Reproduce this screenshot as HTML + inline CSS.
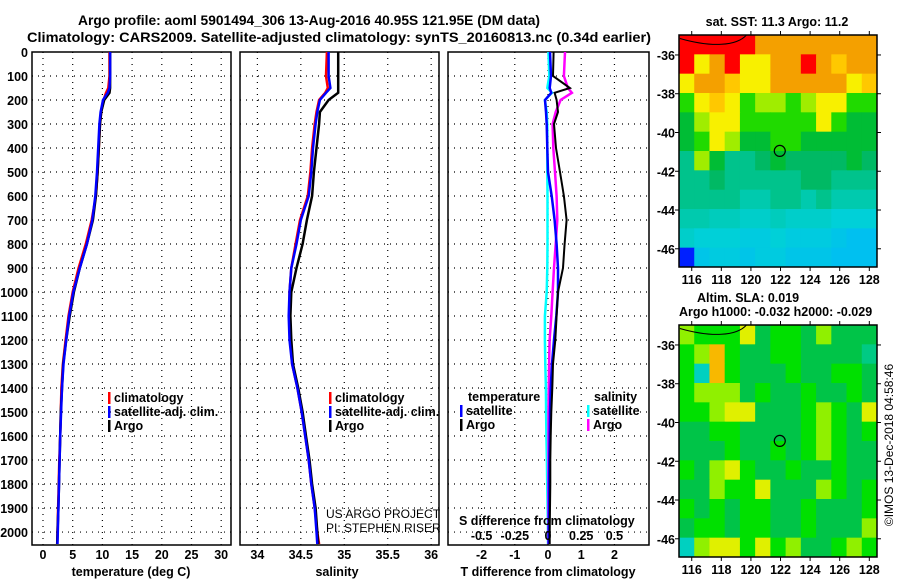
<!DOCTYPE html>
<html><head><meta charset="utf-8">
<style>
html,body{margin:0;padding:0;background:#fff;}
svg{display:block;font-family:"Liberation Sans",sans-serif;}
.b{font-weight:bold;font-size:13px;fill:#000;}
.t{font-weight:bold;font-size:12.5px;fill:#000;}
</style></head>
<body>
<svg id="fig" width="900" height="580" viewBox="0 0 900 580" xmlns="http://www.w3.org/2000/svg">
<rect width="900" height="580" fill="#fff"/>
<text class="b" x="78" y="25" textLength="462" lengthAdjust="spacingAndGlyphs" style="font-size:14px">Argo profile: aoml 5901494_306 13-Aug-2016 40.95S 121.95E (DM data)</text>
<text class="b" x="27" y="42" textLength="624" lengthAdjust="spacingAndGlyphs" style="font-size:14px">Climatology: CARS2009. Satellite-adjusted climatology: synTS_20160813.nc (0.34d earlier)</text>
<g id="g"></g>
</svg>
<script>
// ---------- data ----------
const depths = [0,100,150,170,200,250,300,400,500,600,700,800,900,1000,1100,1200,1300,1400,1500,1600,1700,1800,1900,2000,2050];
const tempArgo = [11.3,11.3,11.3,11.2,10.3,9.8,9.6,9.4,9.2,8.9,8.4,7.4,6.2,5.2,4.5,3.9,3.4,3.2,3.0,2.9,2.8,2.7,2.6,2.45,2.4];
const tempClim = [11.2,11.2,11.0,10.6,10.2,9.8,9.6,9.4,9.2,8.9,8.2,7.2,6.0,5.0,4.3,3.8,3.35,3.1,3.0,2.9,2.75,2.65,2.55,2.45,2.4];
const tempSat = [11.3,11.3,11.2,10.9,10.1,9.7,9.5,9.3,9.1,8.8,8.3,7.4,6.2,5.1,4.4,3.9,3.45,3.2,3.05,2.9,2.8,2.7,2.6,2.5,2.45];
const salArgo = [34.93,34.93,34.93,34.93,34.82,34.72,34.71,34.68,34.65,34.63,34.57,34.52,34.45,34.39,34.38,34.39,34.41,34.47,34.52,34.56,34.6,34.63,34.67,34.69,34.7];
const salClim = [34.80,34.79,34.81,34.78,34.71,34.68,34.66,34.63,34.61,34.58,34.49,34.44,34.39,34.37,34.37,34.38,34.40,34.46,34.51,34.55,34.59,34.62,34.66,34.69,34.71];
const salSat = [34.82,34.82,34.84,34.79,34.72,34.69,34.67,34.64,34.62,34.59,34.50,34.45,34.39,34.37,34.36,34.37,34.40,34.46,34.51,34.55,34.59,34.62,34.66,34.68,34.69];
const tDiffArgo = [0.17,0.15,0.66,0.2,0.26,0.3,0.18,0.24,0.36,0.48,0.56,0.5,0.45,0.3,0.26,0.22,0.15,0.13,0.1,0.08,0.07,0.07,0.06,0.05,0.05];
const tDiffSat = [0.06,0.09,0.05,0.1,-0.09,-0.06,-0.04,-0.02,0,0.11,0.2,0.26,0.3,0.3,0.25,0.18,0.12,0.08,0.06,0.05,0.04,0.03,0.03,0.02,0.02];
const sDiffArgo = [0.128,0.12,0.15,0.18,0.095,0.058,0.035,0.04,0.053,0.065,0.07,0.058,0.045,0.035,0.025,0.012,0.008,0.006,0.004,0.004,0.004,0.003,0.003,0.003,0.003];
const sDiffSat = [0.003,0.01,-0.005,0.03,-0.023,-0.01,-0.005,-0.005,-0.005,-0.004,-0.004,-0.004,-0.005,-0.01,-0.023,-0.023,-0.02,-0.016,-0.014,-0.012,-0.008,-0.006,-0.003,0,0];
const depthTicks = [0,100,200,300,400,500,600,700,800,900,1000,1100,1200,1300,1400,1500,1600,1700,1800,1900,2000];
const tempTicks = [0,5,10,15,20,25,30];
const salTicks = [34,34.5,35,35.5,36];
const tDiffTicks = [-2,-1,0,1,2];
const sDiffTicks = [-0.5,-0.25,0,0.25,0.5];
const sDiffLabels = ['-0.5','-0.25','0','0.25','0.5'];
const lonTicks = [116,118,120,122,124,126,128];
const latTicks = [-36,-38,-40,-42,-44,-46];
const sstGrid = [
[14.5,14.5,14.5,14.5,14.5,13.3,13.3,13.3,13.3,13.3,13.3,13.3,13.3],
[14.5,12.3,13.3,14.5,12.3,12.3,13.3,13.3,14.5,13.3,12.8,13.3,13.3],
[12.3,13.3,13.3,12.8,12.3,12.3,13.3,13.3,13.3,13.3,13.3,12.3,12.8],
[11.3,12.3,12.8,12.3,11.3,11.8,11.8,11.3,11.8,12.3,12.3,11.3,11.3],
[10.9,11.8,12.3,12.3,11.3,11.3,11.3,11.3,11.3,12.3,11.3,10.9,10.9],
[10.9,11.3,12.3,11.8,10.9,10.9,11.3,11.3,10.9,10.9,10.9,10.9,10.9],
[10.5,11.8,10.9,10.5,10.5,10.7,10.9,10.7,10.7,10.7,10.7,10.9,10.7],
[10.5,10.5,10.7,10.5,10.5,10.5,10.5,10.5,10.7,10.7,10.5,10.5,10.5],
[10.5,10.5,10.5,10.5,10.3,10.3,10.5,10.5,10.3,10.5,10.3,10.3,10.3],
[10.3,10.3,10.2,10.2,10.1,10.1,10.2,10.1,10.1,10.1,10.0,10.0,10.0],
[10.1,10.0,10.0,10.0,9.9,9.9,10.0,9.9,9.9,9.9,9.8,9.7,9.7],
[9.0,9.8,9.9,9.9,9.8,9.9,9.9,9.8,9.8,9.8,9.7,9.7,9.7]];
const slaGrid = [
[0.05,0,0,0,0.1,-0.05,0,0,-0.05,0.05,-0.05,-0.05,-0.05],
[0,0.05,0.2,0,-0.05,-0.05,0,0,-0.05,-0.05,-0.05,-0.05,-0.1],
[0,-0.15,0.2,0,-0.05,-0.05,-0.05,0,-0.05,-0.05,0,0,-0.05],
[0,0.05,0.05,0.05,-0.05,0,-0.05,-0.05,0,-0.05,-0.05,0,-0.05],
[0,0,0.05,0.1,0.1,-0.05,-0.05,-0.05,0,0.05,0,-0.05,0.1],
[-0.05,-0.05,0,0,-0.05,-0.05,-0.05,-0.05,0,0.05,0,-0.05,0],
[-0.05,-0.05,-0.05,0,-0.05,-0.05,0,-0.05,0,0.05,0,-0.05,-0.05],
[0,-0.05,0.05,0.1,0,-0.05,-0.05,0,-0.05,-0.05,0,-0.05,-0.05],
[-0.05,-0.05,0.05,0,0,0.1,-0.05,-0.05,-0.05,0.05,0,-0.05,0],
[0,-0.05,0,-0.05,0,0,-0.05,-0.05,0,-0.05,-0.05,-0.05,0],
[-0.05,0,0,-0.05,0,0,-0.05,-0.05,0,-0.05,-0.05,-0.05,0.05],
[-0.15,0.05,0.1,0.1,0,0.1,0,0.05,-0.05,-0.05,0,0.05,0]];
const floatLon = 121.95, floatLat = -40.95;

// ---------- helpers ----------
const NS='http://www.w3.org/2000/svg';
const G=document.getElementById('g');
function mk(tag,attrs,parent){const e=document.createElementNS(NS,tag);for(const k in attrs)e.setAttribute(k,attrs[k]);(parent||G).appendChild(e);return e;}
function txt(s,x,y,cls,anchor,parent){const e=mk('text',{x:x,y:y,class:cls||'t','text-anchor':anchor||'start'},parent);e.textContent=s;return e;}

const yTop=52, yBot=545, dMin=0, dMax=2054;
const yD=d=>yTop+(d-dMin)/(dMax-dMin)*(yBot-yTop);

function panel(name,x0,x1,vmin,vmax,ticks,fmt,showY){
  const sx=v=>x0+(v-vmin)/(vmax-vmin)*(x1-x0);
  const g=mk('g',{});
  
  
  depthTicks.forEach(d=>{if(d>0){const l=mk('line',{x1:x0,x2:x1,y1:yD(d),y2:yD(d),stroke:'#000','stroke-width':1.2,'stroke-dasharray':'1 5'},g);
    
    }});
  ticks.forEach(v=>{const l=mk('line',{x1:sx(v),x2:sx(v),y1:yTop,y2:yBot,stroke:'#000','stroke-width':1.2,'stroke-dasharray':'1 5'},g);
    
    
    const t=txt(fmt(v),sx(v),yBot+14,'t','middle',g);
    
    });
  if(showY){depthTicks.forEach(d=>{const t=txt(String(d),x0-4,yD(d)+5,'t','end',g);
    
    });}
  const r=mk('rect',{x:x0,y:yTop,width:x1-x0,height:yBot-yTop,fill:'none',stroke:'#000','stroke-width':1.5},g);
  
  
  return {sx,g};
}
function series(p,vals,color,name,w){
  const pts=vals.map((v,i)=>p.sx(v).toFixed(1)+','+yD(depths[i]).toFixed(1)).join(' ');
  const l=mk('polyline',{points:pts,fill:'none',stroke:color,'stroke-width':w||2.5,'stroke-linejoin':'miter'},p.g);
  
  
}
function legend(p,x,y,color,label,name){
  const r=mk('rect',{x:x,y:y-10,width:2.5,height:12,fill:color},p.g);
  
  
  const t=txt(label,x+6,y,'t','start',p.g);
  
  
}

// Panel 1: temperature
const p1=panel('temperature-panel',32,231,-1.85,31.65,tempTicks,v=>String(v),true);
series(p1,tempClim,'#ff0000','temp-climatology-line');
series(p1,tempArgo,'#000000','temp-argo-line');
series(p1,tempSat,'#0000ff','temp-satellite-line');
legend(p1,108,402,'#ff0000','climatology','legend-climatology');
legend(p1,108,416,'#0000ff','satellite-adj. clim.','legend-satellite-adj');
legend(p1,108,430,'#000000','Argo','legend-argo');
let xl=txt('temperature (deg C)',131,576,'t','middle');



// Panel 2: salinity
const p2=panel('salinity-panel',240,439,33.8,36.09,salTicks,v=>String(v),false);
series(p2,salClim,'#ff0000','sal-climatology-line');
series(p2,salArgo,'#000000','sal-argo-line');
series(p2,salSat,'#0000ff','sal-satellite-line');
legend(p2,329,402,'#ff0000','climatology','legend-climatology');
legend(p2,329,416,'#0000ff','satellite-adj. clim.','legend-satellite-adj');
legend(p2,329,430,'#000000','Argo','legend-argo');
xl=txt('salinity',337,576,'t','middle');


let c1=txt('US ARGO PROJECT',326,518,'t','start');c1.setAttribute('style','font-weight:normal;font-size:12px');


let c2=txt('PI: STEPHEN RISER',326,532,'t','start');c2.setAttribute('style','font-weight:normal;font-size:12px');



// Panel 3: differences
const p3=panel('difference-panel',448,649,-3.01,3.04,tDiffTicks,v=>String(v),false);
const p3s={sx:v=>548+v*132.8,g:p3.g};
series(p3s,sDiffSat,'#00ffff','sal-diff-satellite-line');
series(p3s,sDiffArgo,'#ff00ff','sal-diff-argo-line');
series(p3,tDiffSat,'#0000ff','temp-diff-satellite-line');
series(p3,tDiffArgo,'#000000','temp-diff-argo-line',2);
sDiffTicks.forEach((v,i)=>{const t=txt(sDiffLabels[i],p3s.sx(v),540,'t','middle');
  
  });
xl=txt('S difference from climatology',459,525,'t','start');


xl=txt('T difference from climatology',548,576,'t','middle');


let lt=txt('temperature',468,401,'t','start');


lt=txt('salinity',594,401,'t','start');


legend(p3,460,415,'#0000ff','satellite','legend-temp-satellite');
legend(p3,460,429,'#000000','Argo','legend-temp-argo');
legend(p3,587,415,'#00ffff','satellite','legend-sal-satellite');
legend(p3,587,429,'#ff00ff','Argo','legend-sal-argo');

// ---------- maps ----------
function lerpColor(stops,v){
  if(v<=stops[0][0])return stops[0][1];
  for(let i=1;i<stops.length;i++){if(v<=stops[i][0]){const a=stops[i-1],b=stops[i];const f=(v-a[0])/(b[0]-a[0]);
    const ca=a[1].match(/\w\w/g).map(h=>parseInt(h,16)),cb=b[1].match(/\w\w/g).map(h=>parseInt(h,16));
    return 'rgb('+ca.map((c,k)=>Math.round(c+(cb[k]-c)*f)).join(',')+')';}}
  return stops[stops.length-1][1];
}
const sstStops=[[9.0,'#0020ff'],[9.7,'#00c0f0'],[10.0,'#00d0d8'],[10.4,'#00c8a0'],[10.8,'#00b450'],[11.1,'#00d000'],[11.5,'#40e400'],[11.9,'#c0f000'],[12.3,'#f8f000'],[12.8,'#ffc800'],[13.3,'#f4a000'],[13.9,'#ff5000'],[14.3,'#ff0000']];
const slaStops=[[-0.15,'#00d0c0'],[-0.05,'#00c448'],[0,'#00e000'],[0.05,'#90f000'],[0.1,'#e0f000'],[0.2,'#f8b800']];
function map(name,x0,x1,y0,y1,grid,stops){
  const lon0=115.14,lon1=128.52,lat0=-34.97,lat1=-46.94;
  const sx=l=>x0+(l-lon0)/(lon1-lon0)*(x1-x0);
  const sy=l=>y0+(l-lat0)/(lat1-lat0)*(y1-y0);
  const g=mk('g',{});
  
  
  const rows=grid.length,cols=grid[0].length,cw=(x1-x0)/cols,ch=(y1-y0)/rows;
  grid.forEach((row,r)=>row.forEach((v,c)=>{const e=mk('rect',{x:(x0+c*cw).toFixed(2),y:(y0+r*ch).toFixed(2),width:(cw+0.5).toFixed(2),height:(ch+0.5).toFixed(2),fill:lerpColor(stops,v)},g);
    
    }));
  const ct=mk('path',{d:'M'+sx(115.2)+','+sy(-35.15)+' Q'+sx(116.8)+','+sy(-35.5)+' '+sx(118)+','+sy(-35.45)+' T'+sx(119.7)+','+sy(-34.97),fill:'none',stroke:'#000','stroke-width':1},g);
  
  
  const fc=mk('circle',{cx:sx(floatLon),cy:sy(floatLat),r:5.5,fill:'none',stroke:'#000','stroke-width':1.2},g);
  
  
  const fr=mk('rect',{x:x0,y:y0,width:x1-x0,height:y1-y0,fill:'none',stroke:'#000','stroke-width':1.5},g);
  
  
  lonTicks.forEach(l=>{mk('line',{x1:sx(l),x2:sx(l),y1:y0,y2:y0-4,stroke:'#000','stroke-width':1},g);
    mk('line',{x1:sx(l),x2:sx(l),y1:y1,y2:y1+4,stroke:'#000','stroke-width':1},g);
    const t=txt(String(l),sx(l),y1+17,'t','middle',g);
    
    });
  latTicks.forEach(l=>{mk('line',{x1:x0,x2:x0-4,y1:sy(l),y2:sy(l),stroke:'#000','stroke-width':1},g);
    mk('line',{x1:x1,x2:x1+4,y1:sy(l),y2:sy(l),stroke:'#000','stroke-width':1},g);
    const t=txt(String(l),x0-4,sy(l)+5,'t','end',g);
    
    });
}
map('sst-map',679,877,35,267,sstGrid,sstStops);
map('sla-map',679,877,325,557,slaGrid,slaStops);
let mt=txt('sat. SST: 11.3 Argo: 11.2',777,26,'t','middle');


mt=txt('Altim. SLA: 0.019',697,302,'t','start');


mt=txt('Argo h1000: -0.032 h2000: -0.029',679,316,'t','start');


mt=txt('©IMOS 13-Dec-2018 04:58:46',0,0,'t','middle');
mt.setAttribute('transform','translate(893,445) rotate(-90)');
mt.setAttribute('style','font-weight:normal;font-size:12px');


</script>
</body></html>
